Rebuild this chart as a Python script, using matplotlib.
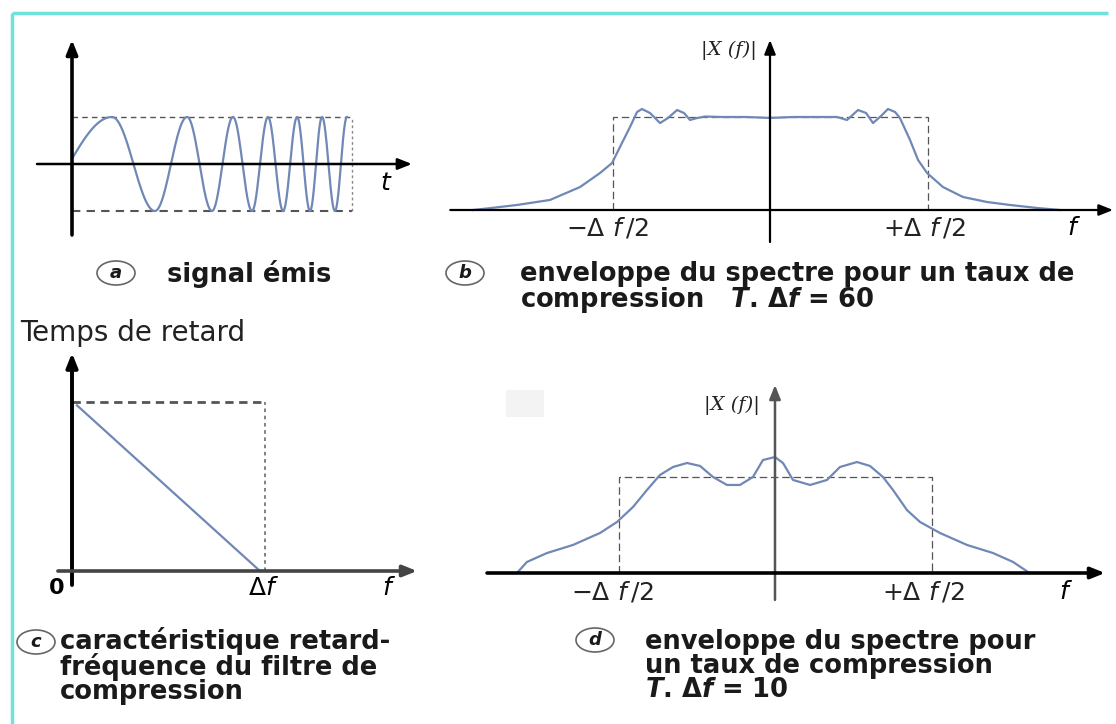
import numpy as np
import matplotlib
matplotlib.use('Agg')
import matplotlib.pyplot as plt
from matplotlib.patches import Rectangle, Ellipse

plt.rcParams['font.family'] = ['DejaVu Sans']
plt.rcParams['mathtext.fontset'] = 'custom'
plt.rcParams['mathtext.rm'] = 'DejaVu Sans'
plt.rcParams['mathtext.it'] = 'DejaVu Sans:italic:bold'
plt.rcParams['mathtext.bf'] = 'DejaVu Sans:bold'
plt.rcParams['mathtext.sf'] = 'DejaVu Sans:italic'

# ---------------- data ----------------
# (a) emitted chirp: start point and times of successive extrema (box spans t = 0..1)
chirp_t_start = 0.004
chirp_v_start = 0.15
chirp_extrema_t = [0.143, 0.296, 0.411, 0.500, 0.575, 0.643, 0.700,
                   0.754, 0.804, 0.850, 0.893, 0.939, 0.982]
# first extremum is a maximum, then alternating

# (b) spectrum envelope, T.Δf = 60 (f in units of Δf/2)
spec60_f = [-1.886, -1.778, -1.606, -1.397, -1.206, -1.079, -1.003, -0.940, -0.889,
            -0.844, -0.813, -0.762, -0.698, -0.648, -0.590, -0.546, -0.508, -0.463,
            -0.413, -0.30, -0.15, 0.0, 0.15, 0.30, 0.425, 0.489, 0.559, 0.610, 0.654,
            0.705, 0.749, 0.794, 0.825, 0.889, 0.940, 0.997, 1.098, 1.225, 1.378,
            1.524, 1.695, 1.841]
spec60_a = [0.0, 0.02, 0.054, 0.108, 0.247, 0.398, 0.505, 0.720, 0.892,
            1.054, 1.086, 1.043, 0.935, 0.989, 1.075, 1.043, 0.968, 0.989,
            1.005, 1.0, 1.0, 0.99, 1.0, 1.0, 1.0, 0.968, 1.075, 1.043, 0.935,
            1.011, 1.086, 1.054, 0.989, 0.753, 0.538, 0.398, 0.247, 0.140, 0.086,
            0.054, 0.022, 0.0]

# (c) delay vs frequency of the compression filter (f in units of Δf)
delay_f = [0.026, 0.974]
delay_t = [0.98, 0.0]

# (d) spectrum envelope, T.Δf = 10 (f in units of Δf/2)
spec10_f = [-1.649, -1.585, -1.457, -1.291, -1.118, -1.010, -0.907, -0.818, -0.735,
            -0.652, -0.562, -0.479, -0.396, -0.307, -0.224, -0.141, -0.077, 0.0,
            0.051, 0.115, 0.224, 0.332, 0.415, 0.524, 0.607, 0.690, 0.754, 0.843,
            0.927, 1.054, 1.227, 1.393, 1.521, 1.617]
spec10_a = [0.0, 0.115, 0.208, 0.292, 0.417, 0.531, 0.688, 0.865, 1.021,
            1.104, 1.146, 1.115, 1.000, 0.917, 0.917, 1.000, 1.177, 1.208,
            1.146, 0.969, 0.917, 0.969, 1.104, 1.156, 1.115, 1.000, 0.865, 0.656,
            0.531, 0.417, 0.292, 0.208, 0.115, 0.010]

tick_labels_spec = [r'$-\Delta\ \mathsf{f}\,/2$', r'$+\Delta\ \mathsf{f}\,/2$']

caption_a = 'signal émis'
caption_b = 'enveloppe du spectre pour un taux de\ncompression   $T$. Δ$f$ = 60'
caption_c = 'caractéristique retard-\nfréquence du filtre de\ncompression'
caption_d = 'enveloppe du spectre pour\nun taux de compression\n$T$. Δ$f$ = 10'

# ---------------- figure ----------------
W, H = 1116, 724
fig = plt.figure(figsize=(W / 100, H / 100), dpi=100)
fig.patch.set_facecolor('white')

ax0 = fig.add_axes([0, 0, 1, 1])
ax0.set_xlim(0, W)
ax0.set_ylim(H, 0)
ax0.axis('off')


def panel(x0, x1, y0, y1, cx, ux, cy, uy):
    ax = fig.add_axes([x0 / W, 1 - y1 / H, (x1 - x0) / W, (y1 - y0) / H])
    ax.set_xlim((x0 - cx) / ux, (x1 - cx) / ux)
    ax.set_ylim((cy - y1) / uy, (cy - y0) / uy)
    ax.axis('off')
    ax.patch.set_alpha(0)
    return ax


def arrow(ax, start, tip, lw=2.0, color='k', ms=12):
    ax.annotate('', xy=tip, xytext=start,
                arrowprops=dict(arrowstyle='-|>,head_length=0.7,head_width=0.28',
                                lw=lw, color=color, shrinkA=0, shrinkB=0,
                                mutation_scale=ms))


CURVE = '#7088b6'
DASH = '#555555'
TICKFS = 18

# frame
ax0.plot([12, 12], [H, 13], color='#6fe2da', lw=2.5, solid_capstyle='butt')
ax0.plot([12, 1108], [13, 13], color='#6fe2da', lw=2.5, solid_capstyle='butt')
ax0.add_patch(Rectangle((506, 390), 38, 27, fc='#f3f3f3', ec='none'))

# ---- panel (a)
axa = panel(30, 420, 30, 250, 72, 280, 164, 47)
arrow(axa, (0, -1.51), (0, 2.64), lw=2.6)
arrow(axa, (-0.125, 0), (1.214, 0), lw=1.8)
axa.plot([0, 1], [1, 1], ls=(0, (4, 3)), color=DASH, lw=1.0)
axa.plot([0, 1], [-1, -1], ls=(0, (4, 3)), color=DASH, lw=1.5)
axa.plot([1, 1], [-1, 1], ls=(0, (2, 2)), color='#888888', lw=1.0)
ext_t = np.array([chirp_t_start] + chirp_extrema_t)
ph0 = np.arcsin(chirp_v_start)
ext_ph = np.array([ph0] + [np.pi / 2 + k * np.pi for k in range(len(chirp_extrema_t))])
tt = np.linspace(ext_t[0], ext_t[-1], 1500)
axa.plot(tt, np.sin(np.interp(tt, ext_t, ext_ph)), color=CURVE, lw=1.6)
axa.text(1.118, -0.40, 't', style='italic', fontsize=TICKFS, ha='center', va='center')

# ---- panel (b)
axb = panel(440, 1116, 30, 250, 770, 157.5, 210, 93)
arrow(axb, (0, -0.344), (0, 1.828), lw=1.6)
arrow(axb, (-2.03, 0), (2.178, 0), lw=1.6)
axb.plot([-1, -1, 1, 1], [0, 1, 1, 0], ls=(0, (6, 3)), color=DASH, lw=0.9)
axb.plot(spec60_f, spec60_a, color=CURVE, lw=1.6)
axb.text(-1.03, -0.194, tick_labels_spec[0], fontsize=TICKFS, ha='center', va='center',
         color='#222222')
axb.text(0.978, -0.194, tick_labels_spec[1], fontsize=TICKFS, ha='center', va='center',
         color='#222222')
axb.text(1.917, -0.194, 'f', style='italic', fontsize=TICKFS, ha='center', va='center')
axb.text(-0.083, 1.72, '|X (f)|', family='DejaVu Serif', style='italic', fontsize=14,
         ha='right', va='center', color='#222222')

# ---- panel (c)
axc = panel(20, 430, 340, 600, 72, 193, 571, 169)
arrow(axc, (0, -0.083), (0, 1.29), lw=2.8)
arrow(axc, (-0.073, 0), (1.788, 0), lw=2.6, color='#444444')
axc.plot([0, 1], [1, 1], ls=(0, (3, 2)), color=DASH, lw=2.0)
axc.plot([1, 1], [0, 1], ls=(0, (2, 2)), color='#777777', lw=1.3)
axc.plot(delay_f, delay_t, color=CURVE, lw=1.6)
axc.text(-0.078, -0.10, '0', fontweight='bold', fontsize=16, ha='center', va='center')
axc.text(0.99, -0.10, r'$\Delta\mathsf{f}$', fontsize=TICKFS, ha='center', va='center')
axc.text(1.632, -0.10, 'f', style='italic', fontsize=TICKFS, ha='center', va='center')

# ---- panel (d)
axd = panel(460, 1116, 380, 620, 775, 156.5, 573, 96)
arrow(axd, (0, -0.28), (0, 1.958), lw=1.8, color='#555555')
arrow(axd, (-1.84, 0), (2.109, 0), lw=2.6)
axd.plot([-1, -1, 1, 1], [0, 1, 1, 0], ls=(0, (6, 3)), color=DASH, lw=0.9)
axd.plot(spec10_f, spec10_a, color=CURVE, lw=1.6)
axd.text(-1.04, -0.198, tick_labels_spec[0], fontsize=TICKFS, ha='center', va='center',
         color='#222222')
axd.text(0.946, -0.198, tick_labels_spec[1], fontsize=TICKFS, ha='center', va='center',
         color='#222222')
axd.text(1.847, -0.198, 'f', style='italic', fontsize=TICKFS, ha='center', va='center')
axd.text(-0.096, 1.75, '|X (f)|', family='DejaVu Serif', style='italic', fontsize=14,
         ha='right', va='center', color='#222222')

# ---- captions (va='baseline' aligns the baseline of the last line)
CAP = dict(fontweight='bold', fontsize=18.5, ha='left', va='baseline', color='#1a1a1a',
           linespacing=0.9)
LAB = dict(fontweight='bold', style='italic', fontsize=13, ha='center', va='center',
           color='#1a1a1a')


def circled(x, y, letter):
    ax0.add_patch(Ellipse((x, y), 38, 24, fc='none', ec='#666666', lw=1.2))
    ax0.text(x, y, letter, **LAB)


circled(116, 273, 'a')
ax0.text(167, 282, caption_a, **CAP)

circled(465, 273, 'b')
ax0.text(520, 307, caption_b, **CAP)

ax0.text(20, 333, 'Temps de retard', fontsize=20, ha='left', va='center', color='#222222')

circled(36, 642, 'c')
ax0.text(60, 699, caption_c, **CAP)

circled(595, 640, 'd')
ax0.text(645, 697, caption_d, **CAP)

fig.savefig('out.png', dpi=100, facecolor='white')
